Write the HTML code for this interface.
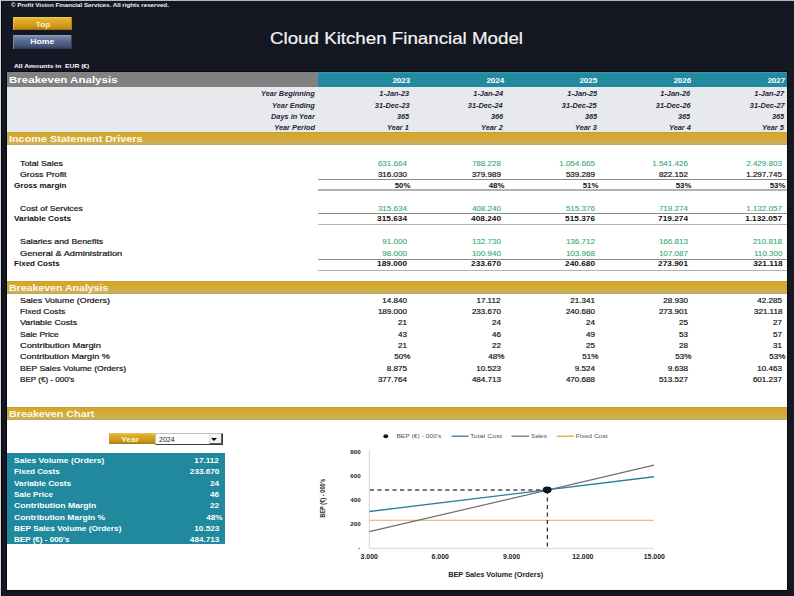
<!DOCTYPE html>
<html lang="en"><head><meta charset="utf-8"><title>Cloud Kitchen Financial Model</title>
<style>
html,body{margin:0;padding:0;}
body{width:794px;height:596px;overflow:hidden;position:relative;background:#141823 conic-gradient(#171b27 25%,#11141d 0 50%,#171b27 0 75%,#11141d 0) 0 0/2px 2px;font-family:"Liberation Sans",sans-serif;}
#edgeL{position:absolute;left:0;top:0;width:1px;height:596px;background:#d8d8d8;box-shadow:1px 0 0 #06080c;}
#edgeT{position:absolute;left:0;top:0;width:794px;height:1px;background:#b9bac0;}
.t{position:absolute;height:12px;line-height:12px;color:#151515;white-space:nowrap;-webkit-text-stroke:0.2px currentColor;}
.b{font-weight:bold;color:#111;-webkit-text-stroke:0;}
.g{color:#37aa75;-webkit-text-stroke:0.1px currentColor;}
.hi{font-style:italic;font-weight:bold;color:#1d2438;-webkit-text-stroke:0;}
.w{color:#fff;}
#sheet{position:absolute;left:7px;top:72px;width:780px;height:518px;background:#fff;box-shadow:0 0 0 1px #07090e;}
.band{position:absolute;left:7px;width:780px;height:13px;background:linear-gradient(#bd9a36 0%,#d5a82d 10%,#d5a82e 38%,#cfad48 62%,#ccb058 90%,#b9a254 100%);}
.bandt{position:absolute;left:9px;height:13px;line-height:13px;font-size:9px;font-weight:bold;color:#fff9ea;white-space:nowrap;transform-origin:left center;}
.ul{position:absolute;left:318px;width:469px;}
.btn{position:absolute;left:13.2px;width:59.3px;height:13.5px;line-height:13.5px;text-align:center;font-size:7.4px;font-weight:bold;border-radius:1px;}
.btn span{display:inline-block;transform:scaleX(1.12);}
</style></head><body>
<div id="edgeL"></div><div id="edgeT"></div>

<div class="t w b" style="left:11px;top:-0.6px;font-size:5.6px;color:#f2f2f2;transform:scaleX(1.108);transform-origin:left center;">© Profit Vision Financial Services. All rights reserved.</div>
<div class="btn" style="top:16.5px;line-height:15.4px;text-indent:0.5px;color:#fdf1c9;background:linear-gradient(#efcf52 0%,#e4b42c 15%,#daa220 45%,#cb961a 75%,#b38212 92%,#8f6a10 100%);box-shadow:inset 1px 0 0 #e8c040,inset -1px 0 0 #b08314;"><span>Top</span></div>
<div class="btn" style="top:35.3px;text-indent:-1px;color:#fff;background:linear-gradient(#93a3c6 0%,#6c7ca0 20%,#55648a 50%,#455375 80%,#2c364f 100%);box-shadow:inset 1px 0 0 #7888ac,inset -1px 0 0 #36425e;"><span style="transform:scaleX(1.17);">Home</span></div>
<div class="t w" style="left:269.6px;top:27px;height:22px;line-height:22px;font-size:16.2px;color:#f4f4f4;transform:scaleX(1.157);transform-origin:left center;">Cloud Kitchen Financial Model</div>
<div class="t w b" style="left:14px;top:60.2px;font-size:6px;transform:scaleX(1.123);transform-origin:left center;">All Amounts in&nbsp; EUR (€)</div>
<div id="sheet"></div>
<div style="position:absolute;left:7px;top:71.7px;width:311px;height:15.2px;background:#818181;"></div>
<div style="position:absolute;left:317.6px;top:71.7px;width:469.4px;height:15.2px;background:linear-gradient(#3a9bb0 0,#2189a0 2px,#2189a0 100%);"></div>
<div style="position:absolute;left:7px;top:86.9px;width:780px;height:45.5px;background:#e8e9ec;"></div>
<div class="bandt" style="top:73px;font-size:9.6px;color:#fff;transform:scaleX(1.202);">Breakeven Analysis</div>
<div class="t b w" style="right:383.90px;top:75px;font-size:7.3px;transform:scaleX(1.100);transform-origin:right center;">2023</div>
<div class="t b w" style="right:290.10px;top:75px;font-size:7.3px;transform:scaleX(1.100);transform-origin:right center;">2024</div>
<div class="t b w" style="right:196.30px;top:75px;font-size:7.3px;transform:scaleX(1.100);transform-origin:right center;">2025</div>
<div class="t b w" style="right:102.50px;top:75px;font-size:7.3px;transform:scaleX(1.100);transform-origin:right center;">2026</div>
<div class="t b w" style="right:8.70px;top:75px;font-size:7.3px;transform:scaleX(1.100);transform-origin:right center;">2027</div>
<div class="t hi" style="right:479.00px;top:88px;font-size:6.7px;transform:scaleX(1.100);transform-origin:right center;">Year Beginning</div>
<div class="t hi" style="right:384.90px;top:88px;font-size:6.7px;transform:scaleX(1.100);transform-origin:right center;">1-Jan-23</div>
<div class="t hi" style="right:291.10px;top:88px;font-size:6.7px;transform:scaleX(1.100);transform-origin:right center;">1-Jan-24</div>
<div class="t hi" style="right:197.30px;top:88px;font-size:6.7px;transform:scaleX(1.100);transform-origin:right center;">1-Jan-25</div>
<div class="t hi" style="right:103.50px;top:88px;font-size:6.7px;transform:scaleX(1.100);transform-origin:right center;">1-Jan-26</div>
<div class="t hi" style="right:9.70px;top:88px;font-size:6.7px;transform:scaleX(1.100);transform-origin:right center;">1-Jan-27</div>
<div class="t hi" style="right:479.00px;top:100px;font-size:6.7px;transform:scaleX(1.100);transform-origin:right center;">Year Ending</div>
<div class="t hi" style="right:384.90px;top:100px;font-size:6.7px;transform:scaleX(1.100);transform-origin:right center;">31-Dec-23</div>
<div class="t hi" style="right:291.10px;top:100px;font-size:6.7px;transform:scaleX(1.100);transform-origin:right center;">31-Dec-24</div>
<div class="t hi" style="right:197.30px;top:100px;font-size:6.7px;transform:scaleX(1.100);transform-origin:right center;">31-Dec-25</div>
<div class="t hi" style="right:103.50px;top:100px;font-size:6.7px;transform:scaleX(1.100);transform-origin:right center;">31-Dec-26</div>
<div class="t hi" style="right:9.70px;top:100px;font-size:6.7px;transform:scaleX(1.100);transform-origin:right center;">31-Dec-27</div>
<div class="t hi" style="right:479.00px;top:111px;font-size:6.7px;transform:scaleX(1.100);transform-origin:right center;">Days in Year</div>
<div class="t hi" style="right:384.90px;top:111px;font-size:6.7px;transform:scaleX(1.100);transform-origin:right center;">365</div>
<div class="t hi" style="right:291.10px;top:111px;font-size:6.7px;transform:scaleX(1.100);transform-origin:right center;">366</div>
<div class="t hi" style="right:197.30px;top:111px;font-size:6.7px;transform:scaleX(1.100);transform-origin:right center;">365</div>
<div class="t hi" style="right:103.50px;top:111px;font-size:6.7px;transform:scaleX(1.100);transform-origin:right center;">365</div>
<div class="t hi" style="right:9.70px;top:111px;font-size:6.7px;transform:scaleX(1.100);transform-origin:right center;">365</div>
<div class="t hi" style="right:479.00px;top:122px;font-size:6.7px;transform:scaleX(1.100);transform-origin:right center;">Year Period</div>
<div class="t hi" style="right:384.90px;top:122px;font-size:6.7px;transform:scaleX(1.100);transform-origin:right center;">Year 1</div>
<div class="t hi" style="right:291.10px;top:122px;font-size:6.7px;transform:scaleX(1.100);transform-origin:right center;">Year 2</div>
<div class="t hi" style="right:197.30px;top:122px;font-size:6.7px;transform:scaleX(1.100);transform-origin:right center;">Year 3</div>
<div class="t hi" style="right:103.50px;top:122px;font-size:6.7px;transform:scaleX(1.100);transform-origin:right center;">Year 4</div>
<div class="t hi" style="right:9.70px;top:122px;font-size:6.7px;transform:scaleX(1.100);transform-origin:right center;">Year 5</div>
<div class="band" style="top:131.8px;"></div><div class="bandt" style="top:133px;transform:scaleX(1.203);">Income Statement Drivers</div>
<div class="band" style="top:280.7px;"></div><div class="bandt" style="top:282px;transform:scaleX(1.173);">Breakeven Analysis</div>
<div class="band" style="top:406.7px;"></div><div class="bandt" style="top:408px;transform:scaleX(1.194);">Breakeven Chart</div>
<div class="t " style="left:20.20px;top:158px;font-size:7.2px;transform:scaleX(1.221);transform-origin:left center;">Total Sales</div>
<div class="t g" style="right:387.00px;top:158px;font-size:7.2px;transform:scaleX(1.120);transform-origin:right center;">631.664</div>
<div class="t g" style="right:293.20px;top:158px;font-size:7.2px;transform:scaleX(1.120);transform-origin:right center;">788.228</div>
<div class="t g" style="right:199.40px;top:158px;font-size:7.2px;transform:scaleX(1.120);transform-origin:right center;">1.054.665</div>
<div class="t g" style="right:105.60px;top:158px;font-size:7.2px;transform:scaleX(1.120);transform-origin:right center;">1.541.426</div>
<div class="t g" style="right:11.80px;top:158px;font-size:7.2px;transform:scaleX(1.120);transform-origin:right center;">2.429.803</div>
<div class="t " style="left:20.20px;top:169px;font-size:7.2px;transform:scaleX(1.226);transform-origin:left center;">Gross Profit</div>
<div class="t " style="right:387.00px;top:169px;font-size:7.2px;transform:scaleX(1.120);transform-origin:right center;">316.030</div>
<div class="t " style="right:293.20px;top:169px;font-size:7.2px;transform:scaleX(1.120);transform-origin:right center;">379.989</div>
<div class="t " style="right:199.40px;top:169px;font-size:7.2px;transform:scaleX(1.120);transform-origin:right center;">539.289</div>
<div class="t " style="right:105.60px;top:169px;font-size:7.2px;transform:scaleX(1.120);transform-origin:right center;">822.152</div>
<div class="t " style="right:11.80px;top:169px;font-size:7.2px;transform:scaleX(1.120);transform-origin:right center;">1.297.745</div>
<div class="t b" style="left:14.20px;top:180px;font-size:7.2px;transform:scaleX(1.124);transform-origin:left center;">Gross margin</div>
<div class="t b" style="right:383.60px;top:180px;font-size:7.2px;transform:scaleX(1.090);transform-origin:right center;">50%</div>
<div class="t b" style="right:289.80px;top:180px;font-size:7.2px;transform:scaleX(1.090);transform-origin:right center;">48%</div>
<div class="t b" style="right:196.00px;top:180px;font-size:7.2px;transform:scaleX(1.090);transform-origin:right center;">51%</div>
<div class="t b" style="right:102.20px;top:180px;font-size:7.2px;transform:scaleX(1.090);transform-origin:right center;">53%</div>
<div class="t b" style="right:8.40px;top:180px;font-size:7.2px;transform:scaleX(1.090);transform-origin:right center;">53%</div>
<div class="t " style="left:20.20px;top:203px;font-size:7.2px;transform:scaleX(1.200);transform-origin:left center;">Cost of Services</div>
<div class="t g" style="right:387.00px;top:203px;font-size:7.2px;transform:scaleX(1.120);transform-origin:right center;">315.634</div>
<div class="t g" style="right:293.20px;top:203px;font-size:7.2px;transform:scaleX(1.120);transform-origin:right center;">408.240</div>
<div class="t g" style="right:199.40px;top:203px;font-size:7.2px;transform:scaleX(1.120);transform-origin:right center;">515.376</div>
<div class="t g" style="right:105.60px;top:203px;font-size:7.2px;transform:scaleX(1.120);transform-origin:right center;">719.274</div>
<div class="t g" style="right:11.80px;top:203px;font-size:7.2px;transform:scaleX(1.120);transform-origin:right center;">1.132.057</div>
<div class="t b" style="left:14.20px;top:213px;font-size:7.2px;transform:scaleX(1.153);transform-origin:left center;">Variable Costs</div>
<div class="t b" style="right:387.00px;top:213px;font-size:7.2px;transform:scaleX(1.150);transform-origin:right center;">315.634</div>
<div class="t b" style="right:293.20px;top:213px;font-size:7.2px;transform:scaleX(1.150);transform-origin:right center;">408.240</div>
<div class="t b" style="right:199.40px;top:213px;font-size:7.2px;transform:scaleX(1.150);transform-origin:right center;">515.376</div>
<div class="t b" style="right:105.60px;top:213px;font-size:7.2px;transform:scaleX(1.150);transform-origin:right center;">719.274</div>
<div class="t b" style="right:11.80px;top:213px;font-size:7.2px;transform:scaleX(1.150);transform-origin:right center;">1.132.057</div>
<div class="t " style="left:20.20px;top:236px;font-size:7.2px;transform:scaleX(1.226);transform-origin:left center;">Salaries and Benefits</div>
<div class="t g" style="right:387.00px;top:236px;font-size:7.2px;transform:scaleX(1.120);transform-origin:right center;">91.000</div>
<div class="t g" style="right:293.20px;top:236px;font-size:7.2px;transform:scaleX(1.120);transform-origin:right center;">132.730</div>
<div class="t g" style="right:199.40px;top:236px;font-size:7.2px;transform:scaleX(1.120);transform-origin:right center;">136.712</div>
<div class="t g" style="right:105.60px;top:236px;font-size:7.2px;transform:scaleX(1.120);transform-origin:right center;">166.813</div>
<div class="t g" style="right:11.80px;top:236px;font-size:7.2px;transform:scaleX(1.120);transform-origin:right center;">210.818</div>
<div class="t " style="left:20.20px;top:248px;font-size:7.2px;transform:scaleX(1.286);transform-origin:left center;">General &amp; Administration</div>
<div class="t g" style="right:387.00px;top:248px;font-size:7.2px;transform:scaleX(1.120);transform-origin:right center;">98.000</div>
<div class="t g" style="right:293.20px;top:248px;font-size:7.2px;transform:scaleX(1.120);transform-origin:right center;">100.940</div>
<div class="t g" style="right:199.40px;top:248px;font-size:7.2px;transform:scaleX(1.120);transform-origin:right center;">103.968</div>
<div class="t g" style="right:105.60px;top:248px;font-size:7.2px;transform:scaleX(1.120);transform-origin:right center;">107.087</div>
<div class="t g" style="right:11.80px;top:248px;font-size:7.2px;transform:scaleX(1.120);transform-origin:right center;">110.300</div>
<div class="t b" style="left:14.20px;top:258px;font-size:7.2px;transform:scaleX(1.120);transform-origin:left center;">Fixed Costs</div>
<div class="t b" style="right:387.00px;top:258px;font-size:7.2px;transform:scaleX(1.150);transform-origin:right center;">189.000</div>
<div class="t b" style="right:293.20px;top:258px;font-size:7.2px;transform:scaleX(1.150);transform-origin:right center;">233.670</div>
<div class="t b" style="right:199.40px;top:258px;font-size:7.2px;transform:scaleX(1.150);transform-origin:right center;">240.680</div>
<div class="t b" style="right:105.60px;top:258px;font-size:7.2px;transform:scaleX(1.150);transform-origin:right center;">273.901</div>
<div class="t b" style="right:11.80px;top:258px;font-size:7.2px;transform:scaleX(1.150);transform-origin:right center;">321.118</div>
<div class="ul" style="top:178.8px;height:1px;background:#8a8a8a;"></div>
<div class="ul" style="top:212.7px;height:1px;background:#8a8a8a;"></div>
<div class="ul" style="top:258.6px;height:1px;background:#8a8a8a;"></div>
<div class="ul" style="top:189.4px;height:1.6px;background:#b2b2b2;"></div>
<div class="ul" style="top:223.6px;height:1.6px;background:#b2b2b2;"></div>
<div class="ul" style="top:269.6px;height:1.6px;background:#b2b2b2;"></div>
<div class="t " style="left:20.20px;top:295px;font-size:7.2px;transform:scaleX(1.236);transform-origin:left center;">Sales Volume (Orders)</div>
<div class="t " style="right:387.00px;top:295px;font-size:7.2px;transform:scaleX(1.120);transform-origin:right center;">14.840</div>
<div class="t " style="right:293.20px;top:295px;font-size:7.2px;transform:scaleX(1.120);transform-origin:right center;">17.112</div>
<div class="t " style="right:199.40px;top:295px;font-size:7.2px;transform:scaleX(1.120);transform-origin:right center;">21.341</div>
<div class="t " style="right:105.60px;top:295px;font-size:7.2px;transform:scaleX(1.120);transform-origin:right center;">28.930</div>
<div class="t " style="right:11.80px;top:295px;font-size:7.2px;transform:scaleX(1.120);transform-origin:right center;">42.285</div>
<div class="t " style="left:20.20px;top:306px;font-size:7.2px;transform:scaleX(1.194);transform-origin:left center;">Fixed Costs</div>
<div class="t " style="right:387.00px;top:306px;font-size:7.2px;transform:scaleX(1.120);transform-origin:right center;">189.000</div>
<div class="t " style="right:293.20px;top:306px;font-size:7.2px;transform:scaleX(1.120);transform-origin:right center;">233.670</div>
<div class="t " style="right:199.40px;top:306px;font-size:7.2px;transform:scaleX(1.120);transform-origin:right center;">240.680</div>
<div class="t " style="right:105.60px;top:306px;font-size:7.2px;transform:scaleX(1.120);transform-origin:right center;">273.901</div>
<div class="t " style="right:11.80px;top:306px;font-size:7.2px;transform:scaleX(1.120);transform-origin:right center;">321.118</div>
<div class="t " style="left:20.20px;top:317px;font-size:7.2px;transform:scaleX(1.236);transform-origin:left center;">Variable Costs</div>
<div class="t " style="right:387.00px;top:317px;font-size:7.2px;transform:scaleX(1.120);transform-origin:right center;">21</div>
<div class="t " style="right:293.20px;top:317px;font-size:7.2px;transform:scaleX(1.120);transform-origin:right center;">24</div>
<div class="t " style="right:199.40px;top:317px;font-size:7.2px;transform:scaleX(1.120);transform-origin:right center;">24</div>
<div class="t " style="right:105.60px;top:317px;font-size:7.2px;transform:scaleX(1.120);transform-origin:right center;">25</div>
<div class="t " style="right:11.80px;top:317px;font-size:7.2px;transform:scaleX(1.120);transform-origin:right center;">27</div>
<div class="t " style="left:20.20px;top:329px;font-size:7.2px;transform:scaleX(1.185);transform-origin:left center;">Sale Price</div>
<div class="t " style="right:387.00px;top:329px;font-size:7.2px;transform:scaleX(1.120);transform-origin:right center;">43</div>
<div class="t " style="right:293.20px;top:329px;font-size:7.2px;transform:scaleX(1.120);transform-origin:right center;">46</div>
<div class="t " style="right:199.40px;top:329px;font-size:7.2px;transform:scaleX(1.120);transform-origin:right center;">49</div>
<div class="t " style="right:105.60px;top:329px;font-size:7.2px;transform:scaleX(1.120);transform-origin:right center;">53</div>
<div class="t " style="right:11.80px;top:329px;font-size:7.2px;transform:scaleX(1.120);transform-origin:right center;">57</div>
<div class="t " style="left:20.20px;top:340px;font-size:7.2px;transform:scaleX(1.288);transform-origin:left center;">Contribution Margin</div>
<div class="t " style="right:387.00px;top:340px;font-size:7.2px;transform:scaleX(1.120);transform-origin:right center;">21</div>
<div class="t " style="right:293.20px;top:340px;font-size:7.2px;transform:scaleX(1.120);transform-origin:right center;">22</div>
<div class="t " style="right:199.40px;top:340px;font-size:7.2px;transform:scaleX(1.120);transform-origin:right center;">25</div>
<div class="t " style="right:105.60px;top:340px;font-size:7.2px;transform:scaleX(1.120);transform-origin:right center;">28</div>
<div class="t " style="right:11.80px;top:340px;font-size:7.2px;transform:scaleX(1.120);transform-origin:right center;">31</div>
<div class="t " style="left:20.20px;top:351px;font-size:7.2px;transform:scaleX(1.263);transform-origin:left center;">Contribution Margin %</div>
<div class="t " style="right:383.60px;top:351px;font-size:7.2px;transform:scaleX(1.120);transform-origin:right center;">50%</div>
<div class="t " style="right:289.80px;top:351px;font-size:7.2px;transform:scaleX(1.120);transform-origin:right center;">48%</div>
<div class="t " style="right:196.00px;top:351px;font-size:7.2px;transform:scaleX(1.120);transform-origin:right center;">51%</div>
<div class="t " style="right:102.20px;top:351px;font-size:7.2px;transform:scaleX(1.120);transform-origin:right center;">53%</div>
<div class="t " style="right:8.40px;top:351px;font-size:7.2px;transform:scaleX(1.120);transform-origin:right center;">53%</div>
<div class="t " style="left:20.20px;top:363px;font-size:7.2px;transform:scaleX(1.193);transform-origin:left center;">BEP Sales Volume (Orders)</div>
<div class="t " style="right:387.00px;top:363px;font-size:7.2px;transform:scaleX(1.120);transform-origin:right center;">8.875</div>
<div class="t " style="right:293.20px;top:363px;font-size:7.2px;transform:scaleX(1.120);transform-origin:right center;">10.523</div>
<div class="t " style="right:199.40px;top:363px;font-size:7.2px;transform:scaleX(1.120);transform-origin:right center;">9.524</div>
<div class="t " style="right:105.60px;top:363px;font-size:7.2px;transform:scaleX(1.120);transform-origin:right center;">9.638</div>
<div class="t " style="right:11.80px;top:363px;font-size:7.2px;transform:scaleX(1.120);transform-origin:right center;">10.463</div>
<div class="t " style="left:20.20px;top:374px;font-size:7.2px;transform:scaleX(1.122);transform-origin:left center;">BEP (€) - 000's</div>
<div class="t " style="right:387.00px;top:374px;font-size:7.2px;transform:scaleX(1.120);transform-origin:right center;">377.764</div>
<div class="t " style="right:293.20px;top:374px;font-size:7.2px;transform:scaleX(1.120);transform-origin:right center;">484.713</div>
<div class="t " style="right:199.40px;top:374px;font-size:7.2px;transform:scaleX(1.120);transform-origin:right center;">470.688</div>
<div class="t " style="right:105.60px;top:374px;font-size:7.2px;transform:scaleX(1.120);transform-origin:right center;">513.527</div>
<div class="t " style="right:11.80px;top:374px;font-size:7.2px;transform:scaleX(1.120);transform-origin:right center;">601.237</div>
<div style="position:absolute;left:109px;top:432.6px;width:45.6px;height:11.8px;background:linear-gradient(#e9c450 0%,#dcab26 25%,#cf9b18 65%,#b98a14 88%,#9a7410 100%);"></div>
<div class="t b" style="left:121.4px;top:433px;height:13px;line-height:13px;font-size:7.6px;color:#fdf1cc;transform:scaleX(1.13);transform-origin:left center;">Year</div>
<div style="position:absolute;left:154.8px;top:433.2px;width:68.2px;height:11.6px;background:#fff;border:1px solid #c2c2c2;border-right:1.2px solid #3c3c3c;border-bottom:1.2px solid #3c3c3c;box-sizing:border-box;"></div>
<div class="t" style="left:158.8px;top:434px;font-size:6.4px;height:12px;line-height:12px;color:#222;-webkit-text-stroke:0;transform:scaleX(1.1);transform-origin:left center;">2024</div>
<div style="position:absolute;left:208.6px;top:434.4px;width:13.2px;height:9.2px;background:#f3f3f3;border-right:1px solid #5a5a5a;border-bottom:1px solid #5a5a5a;border-left:1px solid #e2e2e2;box-sizing:border-box;"></div>
<div style="position:absolute;left:211.1px;top:437.6px;width:0;height:0;border-left:3.8px solid transparent;border-right:3.8px solid transparent;border-top:3.8px solid #000;"></div>
<div style="position:absolute;left:7px;top:453.3px;width:217.7px;height:90.5px;background:#20899d;"></div>
<div class="t b w" style="left:14.20px;top:455px;font-size:7.3px;transform:scaleX(1.163);transform-origin:left center;">Sales Volume (Orders)</div>
<div class="t b w" style="right:574.70px;top:455px;font-size:7.3px;transform:scaleX(1.120);transform-origin:right center;">17.112</div>
<div class="t b w" style="left:14.20px;top:466px;font-size:7.3px;transform:scaleX(1.104);transform-origin:left center;">Fixed Costs</div>
<div class="t b w" style="right:574.70px;top:466px;font-size:7.3px;transform:scaleX(1.120);transform-origin:right center;">233.670</div>
<div class="t b w" style="left:14.20px;top:478px;font-size:7.3px;transform:scaleX(1.137);transform-origin:left center;">Variable Costs</div>
<div class="t b w" style="right:574.70px;top:478px;font-size:7.3px;transform:scaleX(1.120);transform-origin:right center;">24</div>
<div class="t b w" style="left:14.20px;top:489px;font-size:7.3px;transform:scaleX(1.120);transform-origin:left center;">Sale Price</div>
<div class="t b w" style="right:574.70px;top:489px;font-size:7.3px;transform:scaleX(1.120);transform-origin:right center;">46</div>
<div class="t b w" style="left:14.20px;top:500px;font-size:7.3px;transform:scaleX(1.179);transform-origin:left center;">Contribution Margin</div>
<div class="t b w" style="right:574.70px;top:500px;font-size:7.3px;transform:scaleX(1.120);transform-origin:right center;">22</div>
<div class="t b w" style="left:14.20px;top:512px;font-size:7.3px;transform:scaleX(1.165);transform-origin:left center;">Contribution Margin %</div>
<div class="t b w" style="right:571.90px;top:512px;font-size:7.3px;transform:scaleX(1.120);transform-origin:right center;">48%</div>
<div class="t b w" style="left:14.20px;top:523px;font-size:7.3px;transform:scaleX(1.135);transform-origin:left center;">BEP Sales Volume (Orders)</div>
<div class="t b w" style="right:574.70px;top:523px;font-size:7.3px;transform:scaleX(1.120);transform-origin:right center;">10.523</div>
<div class="t b w" style="left:14.20px;top:534px;font-size:7.3px;transform:scaleX(1.104);transform-origin:left center;">BEP (€) - 000's</div>
<div class="t b w" style="right:574.70px;top:534px;font-size:7.3px;transform:scaleX(1.120);transform-origin:right center;">484.713</div>
<svg style="position:absolute;left:0;top:0;" width="794" height="596" viewBox="0 0 794 596" font-family="Liberation Sans, sans-serif">
<line x1="369.3" y1="451.0" x2="369.3" y2="548.3" stroke="#d4d4d4" stroke-width="1"/>
<line x1="369.3" y1="548.3" x2="654.0" y2="548.3" stroke="#d4d4d4" stroke-width="1"/>
<g font-size="5.8" fill="#555">
<ellipse cx="385.8" cy="436.3" rx="2.4" ry="2" fill="#111"/>
<text x="396.4" y="438.3" textLength="45" lengthAdjust="spacingAndGlyphs">BEP (€) - 000's</text>
<line x1="451.6" y1="436.2" x2="468.7" y2="436.2" stroke="#2b8197" stroke-width="1.3"/>
<text x="470" y="438.3" textLength="32" lengthAdjust="spacingAndGlyphs">Total Cost</text>
<line x1="511.5" y1="436.2" x2="529" y2="436.2" stroke="#777" stroke-width="1.3"/>
<text x="531" y="438.3" textLength="15.8" lengthAdjust="spacingAndGlyphs">Sales</text>
<line x1="556.8" y1="436.2" x2="573.7" y2="436.2" stroke="#d8aa36" stroke-width="1.3"/>
<text x="575.7" y="438.3" textLength="32" lengthAdjust="spacingAndGlyphs">Fixed Cost</text>
</g>
<g font-size="6.2" font-weight="bold" fill="#222" text-anchor="end">
<text x="360.6" y="454.3">800</text><text x="360.6" y="478.2">600</text><text x="360.6" y="502.1">400</text><text x="360.6" y="526">200</text><text x="360" y="550">-</text>
</g>
<g font-size="6.9" font-weight="bold" fill="#222" text-anchor="middle">
<text x="369.2" y="558.8">3.000</text><text x="440.2" y="558.8">6.000</text><text x="511.5" y="558.8">9.000</text><text x="582.8" y="558.8">12.000</text><text x="654.3" y="558.8">15.000</text>
<text x="495.7" y="577" font-size="6.6" textLength="95" lengthAdjust="spacingAndGlyphs">BEP Sales Volume (Orders)</text>
<text transform="translate(324.6,498.3) rotate(-90)" font-size="6.8" textLength="39" lengthAdjust="spacingAndGlyphs">BEP (€) - 000's</text>
</g>
<line x1="369.3" y1="520.2" x2="654.0" y2="520.2" stroke="#dab248" stroke-width="1.1"/>
<line x1="369.3" y1="511.5" x2="654.0" y2="476.8" stroke="#2b8197" stroke-width="1.4"/>
<line x1="369.3" y1="531.7" x2="654.0" y2="465.2" stroke="#6e6e6e" stroke-width="1.2"/>
<line x1="369.8" y1="490" x2="547.5" y2="490" stroke="#4c4c4c" stroke-width="1.3" stroke-dasharray="4.2 3.35"/>
<line x1="547.4" y1="490" x2="547.4" y2="548.3" stroke="#333" stroke-width="1.3" stroke-dasharray="4 3.5"/>
<ellipse cx="547.2" cy="489.8" rx="4.4" ry="3.4" fill="#0e1426"/>
</svg>
</body></html>
